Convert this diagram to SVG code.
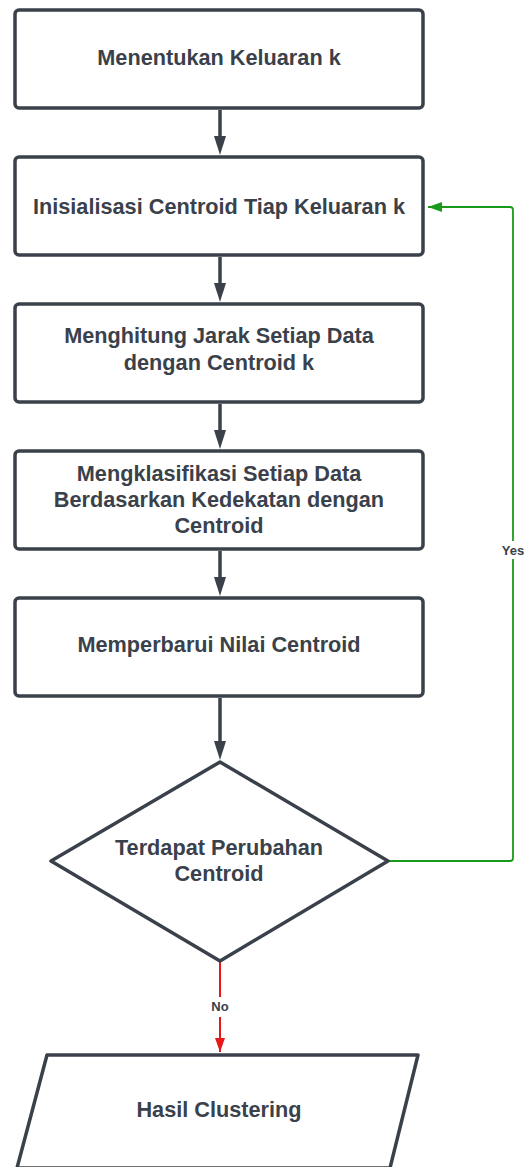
<svg xmlns="http://www.w3.org/2000/svg" width="528" height="1167" viewBox="0 0 528 1167">
<style>
.box{fill:#fff;stroke:#3a414a;stroke-width:3.5;stroke-linejoin:round}
.t{font-family:"Liberation Sans",Arial,sans-serif;font-weight:bold;font-size:21.7px;fill:#3a414a;text-anchor:middle}
.lbl{font-family:"Liberation Sans",Arial,sans-serif;font-weight:bold;font-size:13px;fill:#3a414a;text-anchor:middle}
.c{fill:none;stroke:#3a414a;stroke-width:3.5}
.h{fill:#3a414a}
</style>
<defs>
<marker id="ag" markerWidth="14" markerHeight="10" refX="14" refY="5" orient="auto" markerUnits="userSpaceOnUse"><path d="M0,0 L14,5 L0,10 Z" fill="#1a9a1a"/></marker>
<marker id="ar" markerWidth="14" markerHeight="10" refX="14" refY="5" orient="auto" markerUnits="userSpaceOnUse"><path d="M0,0 L14,5 L0,10 Z" fill="#e81818"/></marker>
</defs>
<g id="connectors">
<path class="c" d="M220,110 V136"/><path class="h" d="M214,136 L226,136 L220,155 Z"/>
<path class="c" d="M220,257 V283"/><path class="h" d="M214,283 L226,283 L220,302 Z"/>
<path class="c" d="M220,404 V430"/><path class="h" d="M214,430 L226,430 L220,449 Z"/>
<path class="c" d="M220,551 V577"/><path class="h" d="M214,577 L226,577 L220,596 Z"/>
<path class="c" d="M220,698 V741"/><path class="h" d="M214,741 L226,741 L220,760 Z"/>
<path d="M389,861 H510 Q513,861 513,858 V210 Q513,207 510,207 H428" fill="none" stroke="#1a9a1a" stroke-width="1.8" marker-end="url(#ag)"/>
<rect x="498" y="541" width="30" height="18" fill="#fff"/>
<text class="lbl" x="513" y="555">Yes</text>
<path d="M220,962 V1052" fill="none" stroke="#e81818" stroke-width="2" marker-end="url(#ar)"/>
<rect x="205" y="997" width="30" height="20" fill="#fff"/>
<text class="lbl" x="220" y="1011">No</text>
</g>
<g id="n1"><rect class="box" x="15" y="10" width="408" height="98" rx="4"/><text class="t" x="219" y="65">Menentukan Keluaran k</text></g>
<g id="n2"><rect class="box" x="15" y="157" width="408" height="98" rx="4"/><text class="t" x="219" y="214">Inisialisasi Centroid Tiap Keluaran k</text></g>
<g id="n3"><rect class="box" x="15" y="304" width="408" height="98" rx="4"/><text class="t" x="219" y="343">Menghitung Jarak Setiap Data</text><text class="t" x="219" y="370">dengan Centroid k</text></g>
<g id="n4"><rect class="box" x="15" y="451" width="408" height="98" rx="4"/><text class="t" x="219" y="481">Mengklasifikasi Setiap Data</text><text class="t" x="219" y="507">Berdasarkan Kedekatan dengan</text><text class="t" x="219" y="533">Centroid</text></g>
<g id="n5"><rect class="box" x="15" y="598" width="408" height="98" rx="4"/><text class="t" x="219" y="652">Memperbarui Nilai Centroid</text></g>
<g id="n6"><path class="box" d="M220,762 L388,861 L220,961 L51,861 Z"/><text class="t" x="219" y="855">Terdapat Perubahan</text><text class="t" x="219" y="881">Centroid</text></g>
<g id="n7"><path class="box" d="M47,1055 H418 L390,1168 H17 Z"/><text class="t" x="219" y="1117">Hasil Clustering</text></g>
</svg>
